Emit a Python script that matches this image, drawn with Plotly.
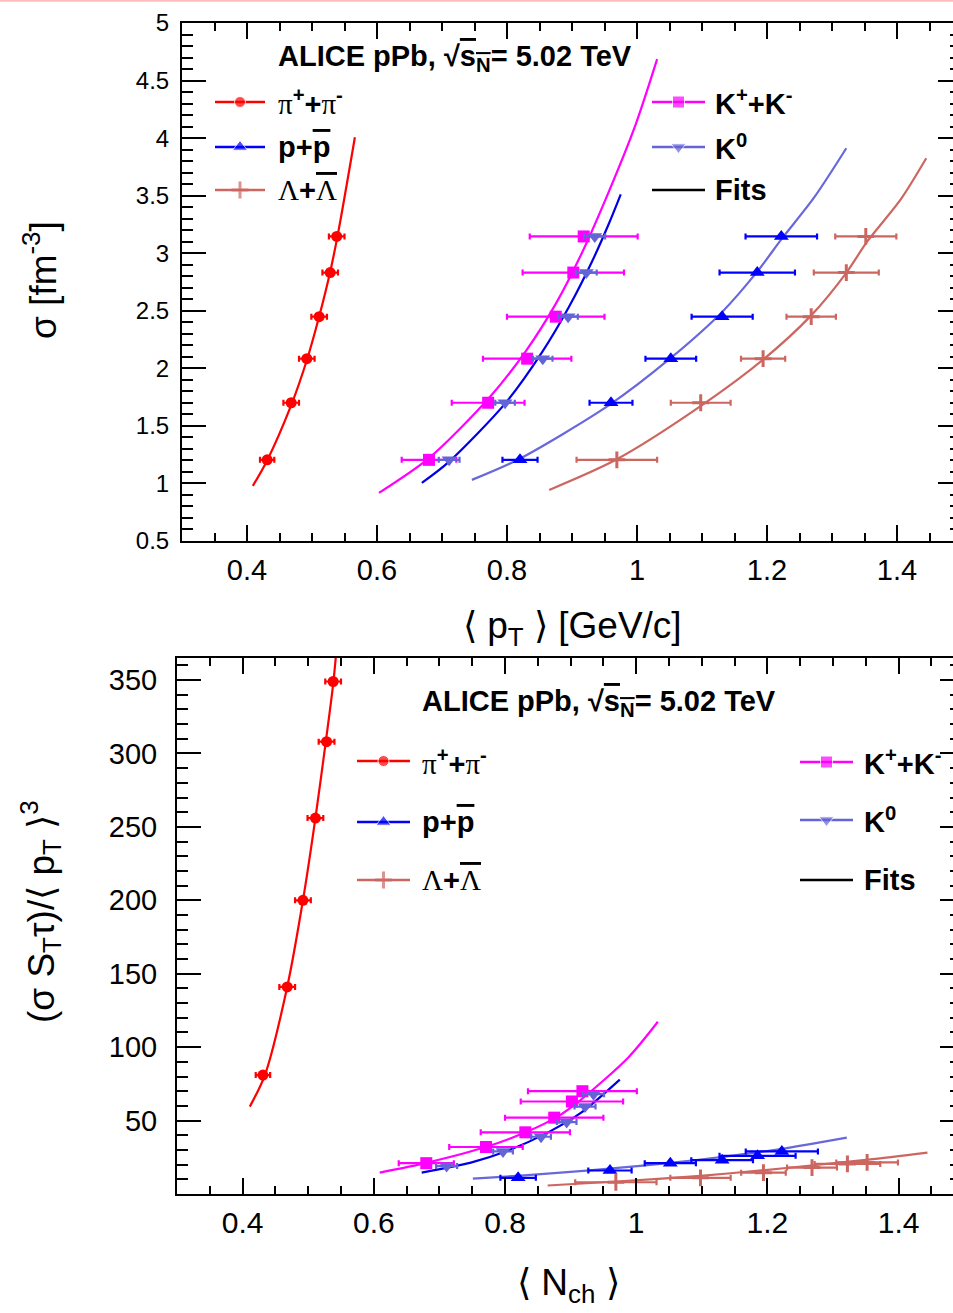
import plotly.graph_objects as go

W, H = 953, 1313

# ---------------- data ----------------
sigma = [1.205, 1.701, 2.084, 2.449, 2.832, 3.146]          # top panel y (same for all species)

pt_pi  = [0.431, 0.468, 0.492, 0.511, 0.528, 0.538]
ex_pi  = [0.011, 0.012, 0.012, 0.012, 0.012, 0.012]
pt_kch = [0.680, 0.771, 0.831, 0.875, 0.902, 0.918]
ex_kch = [0.042, 0.056, 0.068, 0.075, 0.078, 0.083]
pt_k0  = [0.711, 0.797, 0.855, 0.894, 0.922, 0.935]
ex_k0  = [0.016, 0.015, 0.015, 0.015, 0.016, 0.016]
pt_p   = [0.820, 0.960, 1.052, 1.131, 1.185, 1.222]
ex_p   = [0.027, 0.033, 0.039, 0.047, 0.058, 0.055]
pt_lam = [0.969, 1.098, 1.194, 1.268, 1.322, 1.352]
ex_lam = [0.062, 0.046, 0.034, 0.038, 0.050, 0.047]

# bottom panel y values
y2_pi  = [81, 141, 200, 256, 308, 349]
y2_kch = [21, 32, 42, 52, 63, 70]
y2_k0  = [19, 29, 39, 49, 59.5, 68]
y2_p   = [11, 16, 21, 23, 26, 29]
y2_lam = [8, 11, 14.5, 18, 20.5, 21.5]

# fit curves (top panel)
fx_pi  = [0.409, 0.431, 0.468, 0.492, 0.511, 0.528, 0.540, 0.566]
fy_pi  = [0.979, 1.20, 1.68, 2.07, 2.45, 2.84, 3.17, 4.007]
fx_kch = [0.603, 0.680, 0.772, 0.829, 0.875, 0.915, 0.957, 0.998, 1.031]
fy_kch = [0.918, 1.22, 1.74, 2.15, 2.56, 3.00, 3.54, 4.12, 4.686]
fx_k0  = [0.669, 0.711, 0.798, 0.854, 0.895, 0.931, 0.957, 0.975]
fy_k0  = [1.005, 1.19, 1.70, 2.14, 2.53, 2.93, 3.26, 3.511]
fx_p   = [0.746, 0.818, 0.957, 1.052, 1.131, 1.185, 1.222, 1.272, 1.322]
fy_p   = [1.031, 1.21, 1.68, 2.09, 2.49, 2.84, 3.12, 3.48, 3.912]
fx_lam = [0.865, 0.969, 1.100, 1.195, 1.268, 1.322, 1.354, 1.406, 1.445]
fy_lam = [0.944, 1.21, 1.68, 2.08, 2.46, 2.83, 3.10, 3.47, 3.825]

# fit curves (bottom panel)
gx_pi  = [0.411, 0.434, 0.468, 0.492, 0.511, 0.528, 0.538, 0.545]
gy_pi  = [59.5, 81, 141, 200, 256, 312, 347, 380]
gx_kch = [0.609, 0.682, 0.773, 0.834, 0.880, 0.915, 0.988, 1.033]
gy_kch = [14.6, 21.4, 32.3, 42.5, 52.7, 64, 93, 117.3]
gx_k0  = [0.673, 0.748, 0.801, 0.865, 0.915, 0.975]
gy_k0  = [14.6, 21.4, 28.9, 41.8, 55, 77.9]
gx_p   = [0.751, 0.824, 0.885, 0.959, 1.052, 1.132, 1.220, 1.321]
gy_p   = [10.5, 12.5, 14.5, 17.3, 21.2, 25.3, 30.6, 38.4]
gx_lam = [0.865, 0.970, 1.098, 1.197, 1.270, 1.354, 1.444]
gy_lam = [5.8, 8.5, 12.4, 16.3, 19.6, 23.4, 28.2]

# ---------------- styles ----------------
C_PI, C_KCH, C_P, C_K0, C_LAM = "#ff0000", "#ff00ff", "#0000ff", "#6464d8", "#cc6660"
C_FIT_K0, C_FIT_P = "#0000e6", "#6868dc"
FONT = "Liberation Sans, Arial, Helvetica, sans-serif"
MSIZE = {"circle": 11, "square": 12, "triangle-down": 13, "triangle-up": 13, "cross-thin": 12}

fig = go.Figure()


def fit(x, y, color, xa, ya):
    fig.add_trace(go.Scatter(x=x, y=y, mode="lines", line=dict(color=color, width=2.2, shape="spline", smoothing=0.8),
                             xaxis=xa, yaxis=ya, hoverinfo="skip"))


def data(x, y, ex, color, symbol, xa, ya):
    marker = dict(symbol=symbol, size=MSIZE[symbol], color=color)
    if symbol == "cross-thin":
        marker["line"] = dict(width=3, color=color)
    fig.add_trace(go.Scatter(x=x, y=y, mode="markers", marker=marker,
                             error_x=dict(type="data", array=ex, color=color, thickness=2.2, width=3),
                             xaxis=xa, yaxis=ya))


for xa, ya, ys, fits in [
    ("x", "y", [sigma] * 5, [(fx_pi, fy_pi), (fx_kch, fy_kch), (fx_k0, fy_k0), (fx_p, fy_p), (fx_lam, fy_lam)]),
    ("x2", "y2", [y2_pi, y2_kch, y2_k0, y2_p, y2_lam],
     [(gx_pi, gy_pi), (gx_kch, gy_kch), (gx_k0, gy_k0), (gx_p, gy_p), (gx_lam, gy_lam)]),
]:
    fit(*fits[0], C_PI, xa, ya)
    fit(*fits[1], C_KCH, xa, ya)
    fit(*fits[2], C_FIT_K0, xa, ya)
    fit(*fits[3], C_FIT_P, xa, ya)
    fit(*fits[4], C_LAM, xa, ya)
    data(pt_pi, ys[0], ex_pi, C_PI, "circle", xa, ya)
    data(pt_kch, ys[1], ex_kch, C_KCH, "square", xa, ya)
    data(pt_k0, ys[2], ex_k0, C_K0, "triangle-down", xa, ya)
    data(pt_p, ys[3], ex_p, C_P, "triangle-up", xa, ya)
    data(pt_lam, ys[4], ex_lam, C_LAM, "cross-thin", xa, ya)

# ---------------- legend keys on a full-page pixel overlay ----------------
legend_keys = [
    # (x0, x1, y, color, symbol)
    (215, 265, 102, C_PI, "circle"), (215, 265, 147, C_P, "triangle-up"), (215, 265, 190, C_LAM, "cross-thin"),
    (652, 705, 102, C_KCH, "square"), (652, 705, 147, C_K0, "triangle-down"), (652, 705, 190, "black", None),
    (357, 410, 761, C_PI, "circle"), (357, 410, 822, C_P, "triangle-up"), (357, 410, 880, C_LAM, "cross-thin"),
    (800, 853, 762, C_KCH, "square"), (800, 853, 820, C_K0, "triangle-down"), (800, 853, 880, "black", None),
]
for x0, x1, yy, col, sym in legend_keys:
    xm = (x0 + x1) / 2
    if sym is None:
        fig.add_trace(go.Scatter(x=[x0, x1], y=[yy, yy], mode="lines", line=dict(color=col, width=2.5),
                                 xaxis="x5", yaxis="y5"))
    else:
        mk = dict(symbol=sym, size=[0, MSIZE[sym], 0], color=col)
        if sym == "cross-thin":
            mk["line"] = dict(width=3, color=col)
        fig.add_trace(go.Scatter(x=[x0, xm, x1], y=[yy, yy, yy], mode="lines+markers",
                                 line=dict(color=col, width=2.5), marker=mk, xaxis="x5", yaxis="y5"))

# empty traces so the right-side tick axes render
fig.add_trace(go.Scatter(x=[None], y=[None], xaxis="x", yaxis="y3"))
fig.add_trace(go.Scatter(x=[None], y=[None], xaxis="x2", yaxis="y4"))

# ---------------- text ----------------
OV = "<span style='text-decoration:overline'>"
SER = "<span style='font-family:Liberation Serif, Times New Roman, serif;font-weight:normal'>"
header = "<b>ALICE pPb, √" + OV + "s<sub>N</sub></span>= 5.02 TeV</b>"
lab_pi = "<b>" + SER + "π</span><sup>+</sup>+" + SER + "π</span><sup>-</sup></b>"
lab_p = "<b>p+" + OV + "p</span></b>"
lab_lam = "<b>" + SER + "Λ</span>+" + SER + OV + "Λ</span></span></b>"
lab_kch = "<b>K<sup>+</sup>+K<sup>-</sup></b>"
lab_k0 = "<b>K<sup>0</sup></b>"
lab_fit = "<b>Fits</b>"

texts = [
    (276, 58, header), (420, 703, header),
    (276, 102, lab_pi), (276, 147, lab_p), (276, 190, lab_lam),
    (713, 102, lab_kch), (713, 147, lab_k0), (713, 190, lab_fit),
    (420, 762, lab_pi), (420, 822, lab_p), (420, 880, lab_lam),
    (862, 762, lab_kch), (862, 820, lab_k0), (862, 880, lab_fit),
]
annotations = []
for tx, ty, t in texts:
    annotations.append(dict(x=tx, y=ty, xref="x5", yref="y5", text=t, showarrow=False, xanchor="left",
                            yanchor="middle", font=dict(family=FONT, size=29, color="black")))

titles = [
    (572, 628, "⟨ p<sub>T</sub> ⟩ [GeV/c]", 0),
    (40, 280, "σ [fm<sup>-3</sup>]", -90),
    (40, 912, "(σ S<sub>T</sub>τ)/⟨ p<sub>T</sub> ⟩<sup>3</sup>", -90),
    (568, 1285, "⟨ N<sub>ch</sub> ⟩", 0),
]
for tx, ty, t, ang in titles:
    annotations.append(dict(x=tx, y=ty, xref="x5", yref="y5", text=t, showarrow=False, textangle=ang,
                            xanchor="center", yanchor="middle", font=dict(family=FONT, size=37, color="black")))

# ---------------- axes ----------------
def xaxis(domain, rng, anchor, fs, standoff):
    return dict(domain=domain, range=rng, anchor=anchor, showline=True, linecolor="black", linewidth=2,
                mirror="ticks", ticks="inside", ticklen=16, tickwidth=2, tickcolor="black",
                tick0=0.4, dtick=0.2, showgrid=False, zeroline=False, automargin=False,
                minor=dict(ticks="inside", ticklen=8, tickwidth=2, tickcolor="black", dtick=0.05),
                tickfont=dict(family=FONT, size=fs, color="black"), ticklabelstandoff=standoff)


top_dom = [1 - 541 / H, 1 - 23 / H]
bot_dom = [1 - 1194 / H, 1 - 658 / H]

fig.update_layout(
    template="none",
    width=W, height=H, margin=dict(l=0, r=0, t=0, b=0, pad=0, autoexpand=False), showlegend=False,
    paper_bgcolor="white", plot_bgcolor="rgba(0,0,0,0)",
    xaxis=xaxis([182 / W, 1], [0.3, 0.3 + (W - 182) / 650], "y", 29, 2),
    xaxis2=xaxis([177 / W, 1], [0.3, 0.3 + (W - 177) / 656], "y2", 30, 1),
    yaxis=dict(domain=top_dom, range=[0.5, 5], anchor="x", showline=True, linecolor="black", linewidth=2,
               ticks="inside", ticklen=24, tickwidth=2, tickcolor="black", tick0=0.5, dtick=0.5,
               minor=dict(ticks="inside", ticklen=11, tickwidth=2, tickcolor="black", dtick=0.1),
               showgrid=False, zeroline=False, automargin=False,
               tickfont=dict(family=FONT, size=24, color="black"), ticklabelstandoff=6),
    yaxis2=dict(domain=bot_dom, range=[0, 365], anchor="x2", showline=True, linecolor="black", linewidth=2,
                ticks="inside", ticklen=24, tickwidth=2, tickcolor="black", tickmode="array",
                tickvals=[50, 100, 150, 200, 250, 300, 350],
                minor=dict(ticks="inside", ticklen=11, tickwidth=2, tickcolor="black", tickmode="linear",
                           tick0=0, dtick=10),
                showgrid=False, zeroline=False, automargin=False,
                tickfont=dict(family=FONT, size=29, color="black"), ticklabelstandoff=12),
    yaxis3=dict(overlaying="y", side="right", anchor="x", range=[0.5, 5], showline=False, ticks="inside",
                ticklen=15, tickwidth=2, tickcolor="black", tick0=0.5, dtick=0.5, showticklabels=False,
                minor=dict(ticks="inside", ticklen=3, tickwidth=2, tickcolor="black", dtick=0.1),
                showgrid=False, zeroline=False, automargin=False),
    yaxis4=dict(overlaying="y2", side="right", anchor="x2", range=[0, 365], showline=False, ticks="inside",
                ticklen=13, tickwidth=2, tickcolor="black", tick0=0, dtick=50, showticklabels=False,
                minor=dict(ticks="inside", ticklen=3, tickwidth=2, tickcolor="black", dtick=10),
                showgrid=False, zeroline=False, automargin=False),
    xaxis5=dict(domain=[0, 1], range=[0, W], anchor="y5", visible=False, fixedrange=True, automargin=False),
    yaxis5=dict(domain=[0, 1], range=[H, 0], anchor="x5", visible=False, fixedrange=True, automargin=False),
    annotations=annotations,
    shapes=[dict(type="line", xref="paper", yref="paper", x0=0, x1=1, y0=1 - 0.8 / H, y1=1 - 0.8 / H,
                 line=dict(color="#ffbcbc", width=2))],
)

fig.write_html("out.html")
